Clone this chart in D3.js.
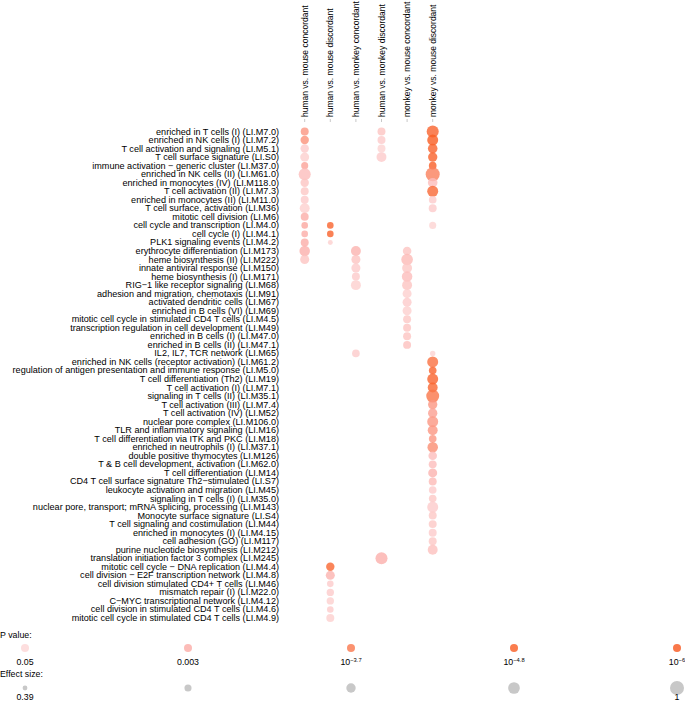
<!DOCTYPE html>
<html>
<head>
<meta charset="utf-8">
<script src="https://cdn.jsdelivr.net/npm/d3@7"></script>
<style>
  html, body { margin: 0; padding: 0; background: #fff; }
  svg { display: block; font-family: "Liberation Sans", Arial, sans-serif; }
</style>
</head>
<body>
<svg id="chart" width="685" height="701"></svg>
<script>
// ---------------- data ----------------
const comparisons = [
  "human vs. mouse concordant",
  "human vs. mouse discordant",
  "human vs. monkey concordant",
  "human vs. monkey discordant",
  "monkey vs. mouse concordant",
  "monkey vs. mouse discordant"
];

const modules = [
  ["LI.M7.0", "enriched in T cells (I)"],
  ["LI.M7.2", "enriched in NK cells (I)"],
  ["LI.M5.1", "T cell activation and signaling"],
  ["LI.S0", "T cell surface signature"],
  ["LI.M37.0", "immune activation \u2212 generic cluster"],
  ["LI.M61.0", "enriched in NK cells (II)"],
  ["LI.M118.0", "enriched in monocytes (IV)"],
  ["LI.M7.3", "T cell activation (II)"],
  ["LI.M11.0", "enriched in monocytes (II)"],
  ["LI.M36", "T cell surface, activation"],
  ["LI.M6", "mitotic cell division"],
  ["LI.M4.0", "cell cycle and transcription"],
  ["LI.M4.1", "cell cycle (I)"],
  ["LI.M4.2", "PLK1 signaling events"],
  ["LI.M173", "erythrocyte differentiation"],
  ["LI.M222", "heme biosynthesis (II)"],
  ["LI.M150", "innate antiviral response"],
  ["LI.M171", "heme biosynthesis (I)"],
  ["LI.M68", "RIG\u22121 like receptor signaling"],
  ["LI.M91", "adhesion and migration, chemotaxis"],
  ["LI.M67", "activated dendritic cells"],
  ["LI.M69", "enriched in B cells (VI)"],
  ["LI.M4.5", "mitotic cell cycle in stimulated CD4 T cells"],
  ["LI.M49", "transcription regulation in cell development"],
  ["LI.M47.0", "enriched in B cells (I)"],
  ["LI.M47.1", "enriched in B cells (II)"],
  ["LI.M65", "IL2, IL7, TCR network"],
  ["LI.M61.2", "enriched in NK cells (receptor activation)"],
  ["LI.M5.0", "regulation of antigen presentation and immune response"],
  ["LI.M19", "T cell differentiation (Th2)"],
  ["LI.M7.1", "T cell activation (I)"],
  ["LI.M35.1", "signaling in T cells (II)"],
  ["LI.M7.4", "T cell activation (III)"],
  ["LI.M52", "T cell activation (IV)"],
  ["LI.M106.0", "nuclear pore complex"],
  ["LI.M16", "TLR and inflammatory signaling"],
  ["LI.M18", "T cell differentiation via ITK and PKC"],
  ["LI.M37.1", "enriched in neutrophils (I)"],
  ["LI.M126", "double positive thymocytes"],
  ["LI.M62.0", "T & B cell development, activation"],
  ["LI.M14", "T cell differentiation"],
  ["LI.S7", "CD4 T cell surface signature Th2\u2212stimulated"],
  ["LI.M45", "leukocyte activation and migration"],
  ["LI.M35.0", "signaling in T cells (I)"],
  ["LI.M143", "nuclear pore, transport; mRNA splicing, processing"],
  ["LI.S4", "Monocyte surface signature"],
  ["LI.M44", "T cell signaling and costimulation"],
  ["LI.M4.15", "enriched in monocytes (I)"],
  ["LI.M117", "cell adhesion (GO)"],
  ["LI.M212", "purine nucleotide biosynthesis"],
  ["LI.M245", "translation initiation factor 3 complex"],
  ["LI.M4.4", "mitotic cell cycle \u2212 DNA replication"],
  ["LI.M4.8", "cell division \u2212 E2F transcription network"],
  ["LI.M46", "cell division stimulated CD4+ T cells"],
  ["LI.M22.0", "mismatch repair (I)"],
  ["LI.M4.12", "C\u2212MYC transcriptional network"],
  ["LI.M4.6", "cell division in stimulated CD4 T cells"],
  ["LI.M4.9", "mitotic cell cycle in stimulated CD4 T cells"]
];

// [module id, effect size, -log10(P)]
const humanMouseConcordant = [
  ["LI.M7.0", 0.60, 3.0], ["LI.M7.2", 0.63, 3.1], ["LI.M5.1", 0.63, 1.6],
  ["LI.S0", 0.67, 1.5], ["LI.M37.0", 0.54, 2.7], ["LI.M61.0", 0.87, 2.0],
  ["LI.M118.0", 0.63, 1.8], ["LI.M7.3", 0.60, 1.7], ["LI.M11.0", 0.60, 1.6],
  ["LI.M36", 0.73, 1.5], ["LI.M6", 0.60, 2.5], ["LI.M4.0", 0.51, 2.6],
  ["LI.M4.1", 0.51, 2.5], ["LI.M4.2", 0.60, 2.5], ["LI.M173", 0.77, 2.4],
  ["LI.M222", 0.67, 1.8]
];
const humanMouseDiscordant = [
  ["LI.M4.0", 0.51, 4.5], ["LI.M4.1", 0.51, 4.6], ["LI.M4.2", 0.40, 1.5],
  ["LI.M4.4", 0.63, 4.4], ["LI.M4.8", 0.67, 2.3], ["LI.M46", 0.51, 1.6],
  ["LI.M22.0", 0.56, 1.6], ["LI.M4.12", 0.56, 1.5], ["LI.M4.6", 0.51, 1.6],
  ["LI.M4.9", 0.60, 1.5]
];
const humanMonkeyConcordant = [
  ["LI.M173", 0.73, 2.3], ["LI.M222", 0.67, 1.8], ["LI.M150", 0.67, 1.6],
  ["LI.M171", 0.60, 1.6], ["LI.M68", 0.73, 1.5], ["LI.M65", 0.58, 1.6]
];
const humanMonkeyDiscordant = [
  ["LI.M7.0", 0.60, 1.8], ["LI.M7.2", 0.60, 1.6], ["LI.M5.1", 0.60, 1.4],
  ["LI.S0", 0.73, 1.6], ["LI.M245", 0.87, 2.4]
];
const monkeyMouseConcordant = [
  ["LI.M173", 0.64, 1.8], ["LI.M222", 0.84, 2.1], ["LI.M150", 0.73, 1.7],
  ["LI.M171", 0.77, 2.0], ["LI.M68", 0.73, 1.8], ["LI.M91", 0.67, 1.5],
  ["LI.M67", 0.67, 1.6], ["LI.M69", 0.67, 1.5], ["LI.M4.5", 0.60, 1.7],
  ["LI.M49", 0.60, 1.8], ["LI.M47.0", 0.60, 1.8], ["LI.M47.1", 0.60, 1.9]
];
const monkeyMouseDiscordant = [
  ["LI.M7.0", 0.87, 4.5], ["LI.M7.2", 0.80, 4.8], ["LI.M5.1", 0.71, 4.5],
  ["LI.S0", 0.69, 4.6], ["LI.M37.0", 0.58, 4.7], ["LI.M61.0", 1.00, 3.5],
  ["LI.M118.0", 0.71, 2.0], ["LI.M7.3", 0.80, 4.3], ["LI.M11.0", 0.58, 1.6],
  ["LI.M36", 0.60, 1.6], ["LI.M4.0", 0.54, 1.4], ["LI.M65", 0.43, 1.4],
  ["LI.M61.2", 0.80, 4.0], ["LI.M5.0", 0.58, 4.5], ["LI.M19", 0.80, 4.5],
  ["LI.M7.1", 0.73, 4.4], ["LI.M35.1", 0.93, 3.8], ["LI.M7.4", 0.69, 3.0],
  ["LI.M52", 0.69, 2.8], ["LI.M106.0", 0.80, 3.0], ["LI.M16", 0.73, 3.0],
  ["LI.M18", 0.58, 3.0], ["LI.M37.1", 0.77, 3.2], ["LI.M126", 0.64, 2.0],
  ["LI.M62.0", 0.60, 2.0], ["LI.M14", 0.67, 2.3], ["LI.S7", 0.60, 2.1],
  ["LI.M45", 0.58, 1.6], ["LI.M35.0", 0.58, 1.7], ["LI.M143", 0.80, 1.6],
  ["LI.S4", 0.60, 1.7], ["LI.M44", 0.60, 1.7], ["LI.M4.15", 0.60, 1.6],
  ["LI.M117", 0.60, 1.7], ["LI.M212", 0.73, 1.9]
];
const seriesByComparison = [
  humanMouseConcordant, humanMouseDiscordant, humanMonkeyConcordant,
  humanMonkeyDiscordant, monkeyMouseConcordant, monkeyMouseDiscordant
];

// legend
const pLegendValues = [1.301, 2.523, 3.7, 4.8, 6];   // -log10(P)
const pLegendLabels = [["0.05", null], ["0.003", null], ["10", "\u22123.7"], ["10", "\u22124.8"], ["10", "\u22126"]];
const effectLegendValues = [0.39, 0.5425, 0.695, 0.8475, 1];
const effectLegendLabels = ["0.39", "", "", "", "1"];

// ---------------- drawing ----------------
const svg = d3.select("#chart");
const FONT = 9.1;
const HEAD_FONT = 8.5;

const x = d3.scalePoint().domain(comparisons).range([304.7, 432.7]);
const y = d3.scalePoint().domain(modules.map(d => d[0])).range([131.5, 618]);
const r = d3.scaleLinear().domain([0.39, 1]).range([2.4, 7]);
const color = d3.scaleLinear()
  .domain(pLegendValues)
  .range(["#fdd6d6", "#fbaba6", "#fa774c", "#f95c22", "#f8561d"])
  .clamp(true);
const OPACITY = 0.8;

// column headers (rotated)
const head = svg.append("g");
head.selectAll("text").data(comparisons).join("text")
  .attr("transform", d => `translate(${x(d) + 3},117) rotate(-90)`)
  .attr("font-size", HEAD_FONT)
  .attr("fill", "#000")
  .text(d => d);
// small gray ticks
head.selectAll("line").data(comparisons).join("line")
  .attr("x1", d => x(d)).attr("x2", d => x(d))
  .attr("y1", 119).attr("y2", 122)
  .attr("stroke", "#c8c8c8").attr("stroke-width", 1);

// row labels
svg.append("g").selectAll("text").data(modules).join("text")
  .attr("x", 279)
  .attr("y", d => y(d[0]))
  .attr("dy", "0.33em")
  .attr("text-anchor", "end")
  .attr("font-size", FONT)
  .attr("fill", "#000")
  .text(d => `${d[1]} (${d[0]})`);

// dots
const cells = [];
seriesByComparison.forEach((s, i) => s.forEach(([id, eff, nlp]) =>
  cells.push({ comp: comparisons[i], id, eff, nlp })));
svg.append("g").selectAll("circle").data(cells).join("circle")
  .attr("cx", d => x(d.comp))
  .attr("cy", d => y(d.id))
  .attr("r", d => r(d.eff))
  .attr("fill", d => color(d.nlp))
  .attr("fill-opacity", OPACITY);

// legend
const lx = d3.scalePoint().domain(d3.range(5)).range([25, 677]);
const leg = svg.append("g").attr("font-size", 8.8);
leg.append("text").attr("x", 0).attr("y", 638).text("P value:");
leg.selectAll("circle.p").data(pLegendValues).join("circle").attr("class", "p")
  .attr("cx", (d, i) => lx(i)).attr("cy", 648).attr("r", 4)
  .attr("fill", d => color(d)).attr("fill-opacity", OPACITY);
const pl = leg.selectAll("text.pl").data(pLegendLabels).join("text").attr("class", "pl")
  .attr("x", (d, i) => lx(i)).attr("y", 665).attr("text-anchor", "middle");
pl.append("tspan").text(d => d[0]);
pl.filter(d => d[1]).append("tspan").attr("dy", -3.5).attr("font-size", 5.8).text(d => d[1]);

leg.append("text").attr("x", 0).attr("y", 677).text("Effect size:");
leg.selectAll("circle.e").data(effectLegendValues).join("circle").attr("class", "e")
  .attr("cx", (d, i) => lx(i)).attr("cy", 688).attr("r", d => r(d))
  .attr("fill", "#c8c8c8");
leg.selectAll("text.el").data(effectLegendLabels).join("text").attr("class", "el")
  .attr("x", (d, i) => lx(i)).attr("y", 700).attr("text-anchor", "middle")
  .text(d => d);
</script>
</body>
</html>
